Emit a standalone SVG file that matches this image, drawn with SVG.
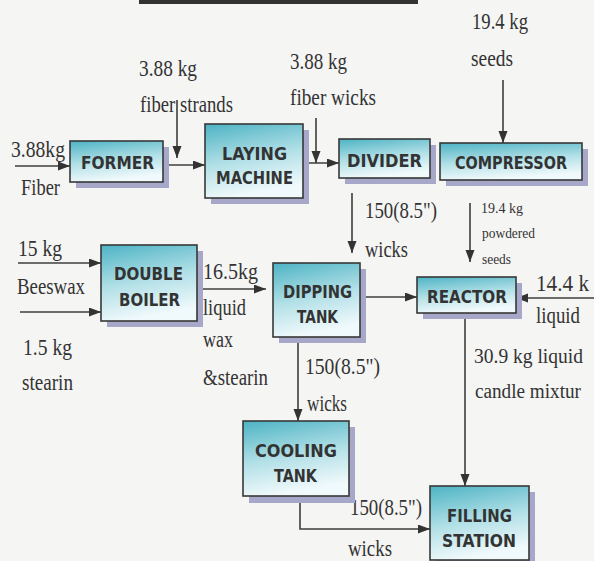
<svg xmlns="http://www.w3.org/2000/svg" width="594" height="561" viewBox="0 0 594 561">
<style>
.t{font-family:"Liberation Serif","Times New Roman",serif;font-size:23px;fill:#333}
.n{font-family:"Liberation Serif","Times New Roman",serif;font-size:20px;fill:#333}
.s{font-family:"Liberation Serif","Times New Roman",serif;font-size:15px;fill:#333}
.b{font-family:"DejaVu Sans","Liberation Sans",sans-serif;font-weight:bold;font-size:18px;fill:#333}
.box{fill:url(#g);stroke:#383838;stroke-width:1.6}
.sh{fill:#a6a7c9}
.c{fill:none;stroke:#3e3e3e;stroke-width:1.6}
.a{marker-end:url(#ah)}
</style>
<defs>
<linearGradient id="g" x1="0" y1="0" x2="0.25" y2="1">
<stop offset="0" stop-color="#4db3c4"/>
<stop offset="0.55" stop-color="#b2e0e7"/>
<stop offset="1" stop-color="#f0f9fb"/>
</linearGradient>
<marker id="ah" markerUnits="userSpaceOnUse" markerWidth="13" markerHeight="10" refX="12" refY="4.5" orient="auto">
<path d="M0,0 L12,4.5 L0,9 z" fill="#333"/>
</marker>
</defs>
<rect width="594" height="561" fill="#f5f5f3"/>
<rect x="139" y="0" width="279" height="4" fill="#333"/>

<g id="connectors">
<path class="c a" d="M15,166 H70"/>
<path class="c a" d="M163,165 H205"/>
<path class="c a" d="M177,100 V158"/>
<path class="c a" d="M303,163 H339"/>
<path class="c a" d="M316,118 V163"/>
<path class="c a" d="M503,80 V143"/>
<path class="c a" d="M352,193 V253"/>
<path class="c a" d="M470,203 V262"/>
<path class="c a" d="M360,297 H417"/>
<path class="c a" d="M594,298 H516"/>
<path class="c a" d="M465,313 V486"/>
<path class="c a" d="M298,337 V421"/>
<path class="c a" d="M300,496 V529 H430"/>
<path class="c a" d="M18,263 H101"/>
<path class="c a" d="M20,312 H101"/>
<path class="c a" d="M197,289 H266"/>
</g>

<g id="labels">
<text class="t" x="11" y="157" textLength="54" lengthAdjust="spacingAndGlyphs">3.88kg</text>
<text class="t" x="21" y="195" textLength="39" lengthAdjust="spacingAndGlyphs">Fiber</text>
<text class="t" x="139" y="76" textLength="58" lengthAdjust="spacingAndGlyphs">3.88 kg</text>
<text class="t" x="140" y="112" textLength="93" lengthAdjust="spacingAndGlyphs">fiber strands</text>
<text class="t" x="290" y="69" textLength="57" lengthAdjust="spacingAndGlyphs">3.88 kg</text>
<text class="t" x="290" y="105" textLength="86" lengthAdjust="spacingAndGlyphs">fiber wicks</text>
<text class="t" x="472" y="29" textLength="56" lengthAdjust="spacingAndGlyphs">19.4 kg</text>
<text class="t" x="471" y="66" textLength="42" lengthAdjust="spacingAndGlyphs">seeds</text>
<text class="t" x="365" y="218" textLength="72" lengthAdjust="spacingAndGlyphs">150(8.5")</text>
<text class="t" x="365" y="257" textLength="43" lengthAdjust="spacingAndGlyphs">wicks</text>
<text class="s" x="481" y="213" textLength="42" lengthAdjust="spacingAndGlyphs">19.4 kg</text>
<text class="s" x="482" y="238" textLength="53" lengthAdjust="spacingAndGlyphs">powdered</text>
<text class="s" x="482" y="264" textLength="29" lengthAdjust="spacingAndGlyphs">seeds</text>
<text class="t" x="536" y="291" textLength="53" lengthAdjust="spacingAndGlyphs">14.4 k</text>
<text class="t" x="536" y="323" textLength="44" lengthAdjust="spacingAndGlyphs">liquid</text>
<text class="n" x="474" y="363" textLength="109" lengthAdjust="spacingAndGlyphs">30.9 kg liquid</text>
<text class="n" x="475" y="398" textLength="106" lengthAdjust="spacingAndGlyphs">candle mixtur</text>
<text class="t" x="305" y="374" textLength="75" lengthAdjust="spacingAndGlyphs">150(8.5")</text>
<text class="t" x="307" y="411" textLength="40" lengthAdjust="spacingAndGlyphs">wicks</text>
<text class="t" x="350" y="515" textLength="72" lengthAdjust="spacingAndGlyphs">150(8.5")</text>
<text class="t" x="348" y="556" textLength="44" lengthAdjust="spacingAndGlyphs">wicks</text>
<text class="t" x="18" y="256" textLength="44" lengthAdjust="spacingAndGlyphs">15 kg</text>
<text class="t" x="17" y="294" textLength="68" lengthAdjust="spacingAndGlyphs">Beeswax</text>
<text class="t" x="23" y="355" textLength="49" lengthAdjust="spacingAndGlyphs">1.5 kg</text>
<text class="t" x="22" y="390" textLength="51" lengthAdjust="spacingAndGlyphs">stearin</text>
<text class="t" x="203" y="279" textLength="55" lengthAdjust="spacingAndGlyphs">16.5kg</text>
<text class="t" x="203" y="315" textLength="43" lengthAdjust="spacingAndGlyphs">liquid</text>
<text class="t" x="203" y="347" textLength="30" lengthAdjust="spacingAndGlyphs">wax</text>
<text class="t" x="203" y="385" textLength="65" lengthAdjust="spacingAndGlyphs">&amp;stearin</text>
</g>

<g id="former">
<rect class="sh" x="76" y="147" width="93" height="41"/>
<rect class="box" x="70" y="141" width="93" height="41"/>
<text class="b" x="81" y="169" textLength="73" lengthAdjust="spacingAndGlyphs">FORMER</text>
</g>
<g id="laying-machine">
<rect class="sh" x="211" y="130" width="98" height="74"/>
<rect class="box" x="205" y="124" width="98" height="74"/>
<text class="b" x="222" y="160" textLength="65" lengthAdjust="spacingAndGlyphs">LAYING</text>
<text class="b" x="216" y="184" textLength="77" lengthAdjust="spacingAndGlyphs">MACHINE</text>
</g>
<g id="divider">
<rect class="sh" x="345" y="145" width="91" height="39"/>
<rect class="box" x="339" y="139" width="91" height="39"/>
<text class="b" x="347" y="167" textLength="75" lengthAdjust="spacingAndGlyphs">DIVIDER</text>
</g>
<g id="compressor">
<rect class="sh" x="446" y="149" width="142" height="37"/>
<rect class="box" x="440" y="143" width="142" height="37"/>
<text class="b" x="455" y="169" textLength="112" lengthAdjust="spacingAndGlyphs">COMPRESSOR</text>
</g>
<g id="double-boiler">
<rect class="sh" x="107" y="251" width="96" height="76"/>
<rect class="box" x="101" y="245" width="96" height="76"/>
<text class="b" x="114" y="280" textLength="69" lengthAdjust="spacingAndGlyphs">DOUBLE</text>
<text class="b" x="119" y="306" textLength="61" lengthAdjust="spacingAndGlyphs">BOILER</text>
</g>
<g id="dipping-tank">
<rect class="sh" x="279" y="269" width="87" height="74"/>
<rect class="box" x="273" y="263" width="87" height="74"/>
<text class="b" x="283" y="298" textLength="69" lengthAdjust="spacingAndGlyphs">DIPPING</text>
<text class="b" x="297" y="323" textLength="41" lengthAdjust="spacingAndGlyphs">TANK</text>
</g>
<g id="reactor">
<rect class="sh" x="423" y="283" width="99" height="36"/>
<rect class="box" x="417" y="277" width="99" height="36"/>
<text class="b" x="427" y="303" textLength="80" lengthAdjust="spacingAndGlyphs">REACTOR</text>
</g>
<g id="cooling-tank">
<rect class="sh" x="249" y="427" width="106" height="76"/>
<rect class="box" x="243" y="421" width="106" height="75"/>
<text class="b" x="255" y="457" textLength="82" lengthAdjust="spacingAndGlyphs">COOLING</text>
<text class="b" x="274" y="482" textLength="43" lengthAdjust="spacingAndGlyphs">TANK</text>
</g>
<g id="filling-station">
<rect class="sh" x="436" y="492" width="99" height="75"/>
<rect class="box" x="430" y="486" width="99" height="74"/>
<text class="b" x="447" y="522" textLength="65" lengthAdjust="spacingAndGlyphs">FILLING</text>
<text class="b" x="442" y="547" textLength="74" lengthAdjust="spacingAndGlyphs">STATION</text>
</g>
</svg>
